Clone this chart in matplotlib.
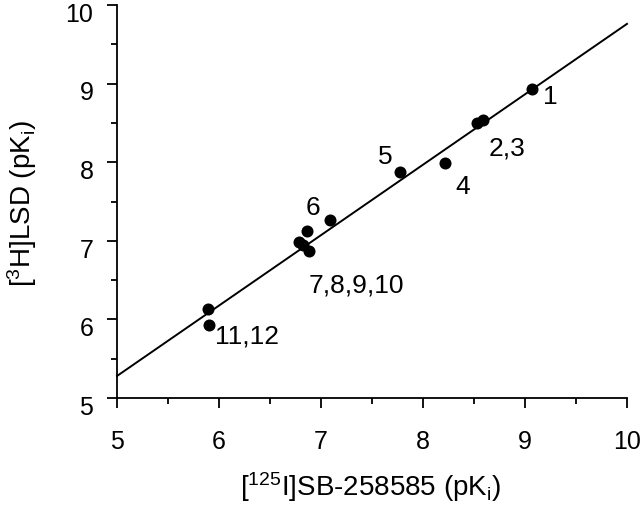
import matplotlib
matplotlib.use("Agg")
import matplotlib.pyplot as plt
import matplotlib.transforms as mtransforms
import numpy as np
from matplotlib.ticker import MultipleLocator

plt.rcParams['font.family'] = ['Liberation Sans', 'DejaVu Sans']
plt.rcParams['mathtext.fontset'] = 'custom'
plt.rcParams['mathtext.rm'] = 'Liberation Sans'
plt.rcParams['mathtext.it'] = 'Liberation Sans'

# Data: [125I]SB-258585 pKi (x) vs [3H]LSD pKi (y)
sb_pki = [9.07, 8.53, 8.59, 8.22, 7.77, 7.09, 6.86, 6.78, 6.82, 6.88, 5.89, 5.90]
lsd_pki = [8.93, 8.50, 8.54, 7.99, 7.88, 7.26, 7.12, 6.99, 6.95, 6.87, 6.13, 5.93]

# Regression line
slope = 0.896
intercept = 0.80
line_x = [5.0, 10.0]

# Annotations
ann_text = ["1", "2,3", "5", "4", "6", "7,8,9,10", "11,12"]
ann_x = [9.25, 8.82, 7.63, 8.39, 6.92, 7.35, 6.27]
ann_y = [8.84, 8.19, 8.08, 7.70, 7.43, 6.45, 5.79]

fig = plt.figure(figsize=(6.4, 5.06), dpi=100)
ax = fig.add_axes([117/640, 1 - 399/506, (627 - 117)/640, (399 - 6)/506])

lx = np.array(line_x)
ax.plot(lx, slope * lx + intercept, color='black', lw=1.4, zorder=2,
        clip_on=False)
ax.scatter(sb_pki, lsd_pki, s=75, color='black', zorder=3, linewidths=0)

for t, x, y in zip(ann_text, ann_x, ann_y):
    ax.text(x, y, t, ha='center', va='center', fontsize=19)

ax.set_xlim(5, 10)
ax.set_ylim(5, 10)
ax.xaxis.set_major_locator(MultipleLocator(1))
ax.xaxis.set_minor_locator(MultipleLocator(0.5))
ax.yaxis.set_major_locator(MultipleLocator(1))
ax.yaxis.set_minor_locator(MultipleLocator(0.5))

for s in ['top', 'right']:
    ax.spines[s].set_visible(False)
for s in ['left', 'bottom']:
    ax.spines[s].set_linewidth(1.3)

ax.tick_params(which='major', direction='out', length=7, width=1.3,
               labelsize=18)
ax.tick_params(axis='x', which='major', pad=15)
ax.tick_params(axis='y', which='major', pad=10)
ax.tick_params(which='minor', direction='out', length=4.5, width=1.3)

ax.set_xlabel(r'[$\mathregular{^{125}}$I]SB-258585 (pK$\mathregular{_i}$)', fontsize=20, va='center')
ax.set_ylabel(r'[$\mathregular{^{3}}$H]LSD (pK$\mathregular{_i}$)', fontsize=20, va='center')
ax.xaxis.set_label_coords(0.498, -0.224)
ax.yaxis.set_label_coords(-0.186, 0.497)

fig.canvas.draw()
offset = mtransforms.ScaledTranslation(0, -4.5 / 72, fig.dpi_scale_trans)
for lab in ax.yaxis.get_majorticklabels():
    lab.set_transform(lab.get_transform() + offset)

fig.savefig("out.png", dpi=100)
